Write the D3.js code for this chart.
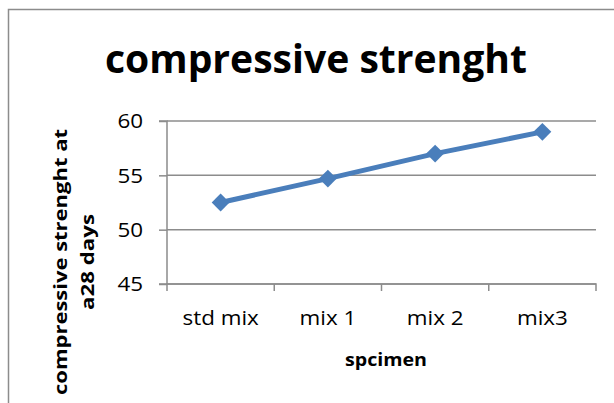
<!DOCTYPE html>
<html>
<head>
<meta charset="utf-8">
<script src="https://cdn.jsdelivr.net/npm/d3@7"></script>
<style>
  html, body { margin: 0; padding: 0; background: #fff; }
  svg { display: block; }
  text { font-family: "Open Sans", "Liberation Sans", sans-serif; fill: #000; }
</style>
</head>
<body>
<div id="chart"></div>
<script>
// Compressive strength at 28 days per specimen
const categories = ["std mix", "mix 1", "mix 2", "mix3"];
const strength = [52.5, 54.7, 57.0, 59.0];
const yTicks = [45, 50, 55, 60];

const W = 614, H = 403;
const plot = { left: 167, right: 596, top: 121, bottom: 284 };
const grey = "#8c8c8c";
const blue = "#4a7ebb";

const svg = d3.select("#chart").append("svg")
  .attr("width", W).attr("height", H);

// widen labels slightly so they read like the narrower office face
function stretch(sel, k) {
  sel.each(function () {
    const w = this.getComputedTextLength();
    d3.select(this).attr("textLength", w * k).attr("lengthAdjust", "spacingAndGlyphs");
  });
}

// chart frame (partially visible)
svg.append("path")
  .attr("d", `M8.5,${H + 2} V9.5 H${W + 2}`)
  .attr("fill", "none").attr("stroke", grey).attr("stroke-width", 1.5);

const x = d3.scaleBand().domain(categories).range([plot.left, plot.right]).padding(0);
const y = d3.scaleLinear().domain([45, 60]).range([plot.bottom, plot.top]);

// horizontal gridlines
svg.append("g").selectAll("line").data(yTicks).join("line")
  .attr("x1", plot.left).attr("x2", plot.right)
  .attr("y1", d => y(d)).attr("y2", d => y(d))
  .attr("stroke", grey).attr("stroke-width", 1.5);

// y axis
const yAxis = svg.append("g")
  .attr("transform", `translate(${plot.left},0)`)
  .call(d3.axisLeft(y).tickValues(yTicks).tickSize(8).tickPadding(16));
yAxis.select(".domain").attr("stroke", grey).attr("stroke-width", 1.5)
  .attr("d", `M-8,${plot.top}H0V${plot.bottom}H-8`);
yAxis.selectAll(".tick line").attr("stroke", grey).attr("stroke-width", 1.5);
yAxis.selectAll(".tick text")
  .style("font-size", "20px").style("font-family", "'Open Sans', sans-serif")
  .attr("fill", "#000").attr("dy", "0.34em")
  .call(stretch, 1.12);

// x axis: ticks on category boundaries
const xAxis = svg.append("g")
  .attr("transform", `translate(0,${plot.bottom})`)
  .call(d3.axisBottom(x).tickSize(0).tickPadding(27));
xAxis.select(".domain").attr("stroke", grey).attr("stroke-width", 1.5)
  .attr("d", `M${plot.left},7V0H${plot.right}V7`);
xAxis.selectAll(".tick text")
  .style("font-size", "20px").style("font-family", "'Open Sans', sans-serif")
  .attr("fill", "#000")
  .call(stretch, 1.12);
const bounds = categories.slice(1).map(c => x(c));
xAxis.selectAll("line.bound").data(bounds).join("line").attr("class", "bound")
  .attr("x1", d => d).attr("x2", d => d).attr("y1", 0).attr("y2", 7)
  .attr("stroke", grey).attr("stroke-width", 1.5);

// data line
const line = d3.line()
  .x((d, i) => x(categories[i]) + x.bandwidth() / 2)
  .y(d => y(d));
svg.append("path").datum(strength)
  .attr("d", line).attr("fill", "none")
  .attr("stroke", blue).attr("stroke-width", 5);

// diamond markers
svg.append("g").selectAll("path").data(strength).join("path")
  .attr("d", d3.symbol().type(d3.symbolSquare).size(160))
  .attr("transform", (d, i) => `translate(${x(categories[i]) + x.bandwidth() / 2},${y(d)}) rotate(45)`)
  .attr("fill", blue);

// title
svg.append("text")
  .attr("x", 316).attr("y", 73)
  .attr("text-anchor", "middle")
  .attr("textLength", 422).attr("lengthAdjust", "spacingAndGlyphs")
  .style("font-size", "39px").style("font-weight", "bold")
  .text("compressive strenght");

// x axis title
svg.append("text")
  .attr("x", 386).attr("y", 366)
  .attr("text-anchor", "middle")
  .attr("textLength", 82).attr("lengthAdjust", "spacingAndGlyphs")
  .style("font-size", "18px").style("font-weight", "bold")
  .text("spcimen");

// y axis title (two lines, rotated)
const yt = svg.append("text")
  .attr("transform", "translate(0,262) rotate(-90)")
  .attr("text-anchor", "middle")
  .style("font-size", "18px").style("font-weight", "bold");
yt.append("tspan").attr("x", 0).attr("y", 67)
  .attr("textLength", 266).attr("lengthAdjust", "spacingAndGlyphs")
  .text("compressive strenght at");
yt.append("tspan").attr("x", 0).attr("y", 94)
  .attr("textLength", 96).attr("lengthAdjust", "spacingAndGlyphs")
  .text("a28 days");
</script>
</body>
</html>
